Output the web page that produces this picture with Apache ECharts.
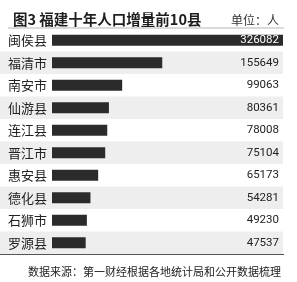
<!DOCTYPE html>
<html>
<head>
<meta charset="utf-8">
<script src="https://cdn.jsdelivr.net/npm/echarts@6/dist/echarts.min.js"></script>
<style>
  html, body { margin: 0; padding: 0; background: #fff; }
  #main { width: 297px; height: 282px; }
</style>
</head>
<body>
<div id="main"></div>
<script>
// 福建十年人口增量前10县 (单位：人)
let counties = ['闽侯县', '福清市', '南安市', '仙游县', '连江县', '晋江市', '惠安县', '德化县', '石狮市', '罗源县'];
let growth = [326082, 155649, 99063, 80361, 78008, 75104, 65173, 54281, 49230, 47537];

let maxValue = Math.max(...growth);
let cnFont = '"Noto Sans CJK SC", sans-serif';

let chart = echarts.init(document.getElementById('main'));
let option = {
    animation: false,
    title: [
        {text: '图3 福建十年人口增量前10县', left: 8, top: 7,
         textStyle: {fontFamily: cnFont, fontSize: 14.5, fontWeight: 'bold', color: '#1e1e1e'}},
        {text: '单位：人', right: 13, top: 9,
         textStyle: {fontFamily: cnFont, fontSize: 12, fontWeight: 'normal', color: '#333'}},
        {text: '数据来源：第一财经根据各地统计局和公开数据梳理', left: 23, top: 261,
         textStyle: {fontFamily: cnFont, fontSize: 11, fontWeight: 'normal', color: '#222'}}
    ],
    grid: [
        {left: 52, right: 14, top: 29, bottom: 28},
        {left: 0, right: 14, top: 29, bottom: 28}
    ],
    xAxis: [
        {gridIndex: 0, type: 'value', min: 0, max: maxValue, show: false},
        {gridIndex: 1, type: 'value', show: false}
    ],
    yAxis: [
        {gridIndex: 0, type: 'category', data: counties, inverse: true,
         axisLine: {show: false}, axisTick: {show: false}, splitLine: {show: false},
         axisLabel: {margin: 5, fontFamily: cnFont, fontSize: 13, color: '#222'}},
        {gridIndex: 1, type: 'category', data: counties, inverse: true,
         axisLine: {show: false}, axisTick: {show: false}, axisLabel: {show: false},
         splitLine: {show: false},
         splitArea: {show: true, areaStyle: {color: ['#ffffff', '#eeeeee']}}}
    ],
    graphic: [
        {type: 'line', shape: {x1: 8, y1: 28, x2: 284, y2: 28}, style: {stroke: '#b5b5b5', lineWidth: 1}},
        {type: 'line', shape: {x1: 0, y1: 254.5, x2: 284, y2: 254.5}, style: {stroke: '#555', lineWidth: 1}}
    ],
    series: [
        {
            type: 'bar', xAxisIndex: 0, yAxisIndex: 0,
            data: growth,
            barWidth: 11,
            itemStyle: {color: '#2b2b2b'}
        },
        {
            // transparent full-width bars that carry the value labels at the right edge
            type: 'bar', xAxisIndex: 0, yAxisIndex: 0,
            data: growth.map((v, i) => i === 0
                ? {value: maxValue, label: {color: '#fff'}}
                : maxValue),
            barWidth: 11,
            barGap: '-100%',
            itemStyle: {color: 'rgba(0,0,0,0)'},
            label: {
                show: true,
                position: 'insideRight',
                distance: 4,
                fontFamily: 'Roboto, sans-serif',
                fontSize: 11.5,
                color: '#222',
                formatter: p => growth[p.dataIndex]
            },
            silent: true
        }
    ]
};
chart.setOption(option);
</script>
</body>
</html>
